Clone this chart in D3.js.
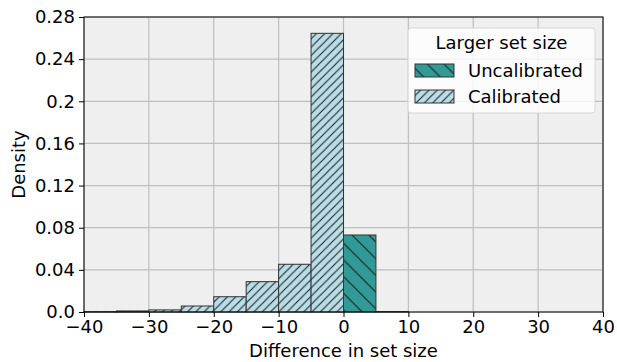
<!DOCTYPE html>
<html>
<head>
<meta charset="utf-8">
<script src="https://cdn.jsdelivr.net/npm/d3@7"></script>
<style>
  body { margin: 0; background: #fff; }
  svg text { font-family: "DejaVu Sans", sans-serif; fill: #000; }
</style>
</head>
<body>
<svg id="chart" width="617" height="362"></svg>
<script>
// histogram bins (width 5) and densities
const binStarts = [-40, -35, -30, -25, -20, -15, -10, -5, 0, 5];
const calibrated = [0.0003, 0.001, 0.002, 0.0057, 0.0145, 0.0288, 0.0453, 0.2645, 0, 0];
const uncalibrated = [0, 0, 0, 0, 0, 0, 0, 0, 0.0731, 0.0004];
const xTicks = [-40, -30, -20, -10, 0, 10, 20, 30, 40];
const yTicks = [0, 0.04, 0.08, 0.12, 0.16, 0.2, 0.24, 0.28];
const yTickLabels = ['0.0', '0.04', '0.08', '0.12', '0.16', '0.2', '0.24', '0.28'];
const binWidth = 5;

const margin = { top: 17, right: 14, bottom: 50, left: 84 };
const W = 617, H = 362;
const w = W - margin.left - margin.right;
const h = H - margin.top - margin.bottom;
const fs = '18px';

const svg = d3.select('#chart');

// hatch patterns
const defs = svg.append('defs');
function hatch(id, fill, spacing, dir) {
  const p = defs.append('pattern')
    .attr('id', id)
    .attr('patternUnits', 'userSpaceOnUse')
    .attr('width', spacing)
    .attr('height', spacing);
  p.append('rect').attr('width', spacing).attr('height', spacing).attr('fill', fill);
  const s = spacing;
  const d = dir === '/'
    ? `M0,${s} L${s},0 M${-s / 2},${s / 2} L${s / 2},${-s / 2} M${s / 2},${s * 1.5} L${s * 1.5},${s / 2}`
    : `M0,0 L${s},${s} M${-s / 2},${s / 2} L${s / 2},${s * 1.5} M${s / 2},${-s / 2} L${s * 1.5},${s / 2}`;
  p.append('path').attr('d', d).attr('stroke', '#1a1a1a').attr('stroke-width', 1);
}
hatch('hatchCal', '#b9dde7', 8.3, '/');
hatch('hatchUncal', '#329a96', 16.7, '\\');

const g = svg.append('g').attr('transform', `translate(${margin.left},${margin.top})`);

const x = d3.scaleLinear().domain([-40, 40]).range([0, w]);
const y = d3.scaleLinear().domain([0, 0.28]).range([h, 0]);

g.append('rect').attr('width', w).attr('height', h).attr('fill', '#efefef');

// grid
g.append('g').selectAll('line').data(xTicks).join('line')
  .attr('x1', d => x(d)).attr('x2', d => x(d))
  .attr('y1', 0).attr('y2', h)
  .attr('stroke', '#bfbfbf').attr('stroke-width', 1.2);
g.append('g').selectAll('line').data(yTicks).join('line')
  .attr('x1', 0).attr('x2', w)
  .attr('y1', d => y(d)).attr('y2', d => y(d))
  .attr('stroke', '#bfbfbf').attr('stroke-width', 1.2);

// bars
const drawBars = (vals, fill) => {
  g.append('g').selectAll('rect')
    .data(binStarts.map((b, i) => ({ b, v: vals[i] })).filter(d => d.v > 0))
    .join('rect')
    .attr('x', d => x(d.b))
    .attr('width', d => x(d.b + binWidth) - x(d.b))
    .attr('y', d => y(d.v))
    .attr('height', d => y(0) - y(d.v))
    .attr('fill', fill)
    .attr('stroke', '#333')
    .attr('stroke-width', 1);
};
drawBars(uncalibrated, 'url(#hatchUncal)');
drawBars(calibrated, 'url(#hatchCal)');

// frame
g.append('rect').attr('width', w).attr('height', h)
  .attr('fill', 'none').attr('stroke', '#000').attr('stroke-width', 1);

// axes
const xAxis = g.append('g').attr('transform', `translate(0,${h})`)
  .call(d3.axisBottom(x).tickValues(xTicks).tickSize(5).tickPadding(3).tickFormat(d3.format('d')));
const yAxis = g.append('g')
  .call(d3.axisLeft(y).tickValues(yTicks).tickSize(5).tickPadding(4)
    .tickFormat((d, i) => yTickLabels[i]));
[xAxis, yAxis].forEach(a => {
  a.select('.domain').remove();
  a.selectAll('text').style('font-size', fs);
  a.selectAll('line').attr('stroke', '#000');
});

// axis labels
svg.append('text')
  .attr('x', margin.left + w / 2).attr('y', 357)
  .attr('text-anchor', 'middle').style('font-size', fs)
  .text('Difference in set size');
svg.append('text')
  .attr('transform', `translate(25,${margin.top + h / 2}) rotate(-90)`)
  .attr('text-anchor', 'middle').style('font-size', fs)
  .text('Density');

// legend
const lg = svg.append('g').attr('transform', 'translate(408,28)');
lg.append('rect').attr('width', 187).attr('height', 85).attr('rx', 3)
  .attr('fill', 'rgba(255,255,255,0.8)').attr('stroke', '#d6d6d6');
lg.append('text').attr('x', 93.5).attr('y', 21).attr('text-anchor', 'middle')
  .style('font-size', fs).text('Larger set size');
const entries = [
  { name: 'Uncalibrated', fill: 'url(#hatchUncal)' },
  { name: 'Calibrated', fill: 'url(#hatchCal)' }
];
entries.forEach((e, i) => {
  const yy = 36 + i * 26;
  lg.append('rect').attr('x', 7).attr('y', yy).attr('width', 39).attr('height', 13)
    .attr('fill', e.fill).attr('stroke', '#333');
  lg.append('text').attr('x', 60).attr('y', yy + 13).style('font-size', fs).text(e.name);
});
</script>
</body>
</html>
